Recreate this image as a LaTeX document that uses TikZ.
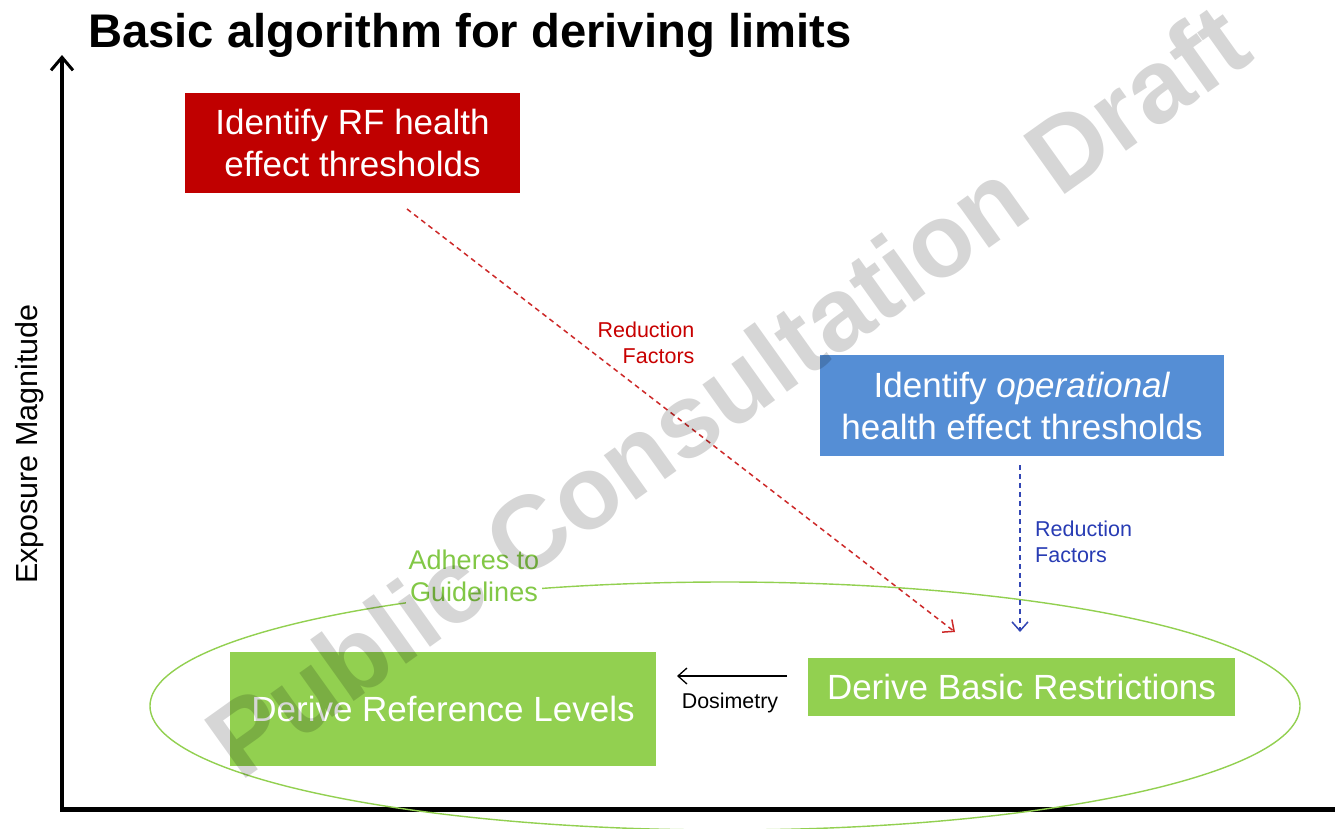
\documentclass[tikz,border=0pt]{standalone}
\usepackage{fontspec}
\setmainfont{Liberation Sans}
\usetikzlibrary{arrows.meta}
\definecolor{boxred}{RGB}{192,0,0}
\definecolor{boxblue}{RGB}{85,142,213}
\definecolor{boxgreen}{RGB}{146,208,80}
\definecolor{lblgreen}{RGB}{130,200,70}
\definecolor{arrred}{RGB}{205,40,40}
\definecolor{arrblue}{RGB}{50,70,180}
\definecolor{lblblue}{RGB}{40,60,180}
\definecolor{lblred}{RGB}{200,0,0}
\tikzset{
  box/.style={inner sep=0pt, text=white, align=center, font=\fontsize{35}{42}\selectfont},
  small/.style={inner sep=0pt, font=\fontsize{21.5}{26}\selectfont},
  dasharrow/.style={line width=1.5pt, dash pattern=on 5pt off 4pt, -{Straight Barb[length=9pt,width=16pt,line width=1.5pt]}},
}
\begin{document}
\begin{tikzpicture}[x=1pt,y=-1pt]
\useasboundingbox (0,0) rectangle (1335,828);
\fill[white] (0,0) rectangle (1335,828);
% axes
\coordinate (yb) at (62,809);
\coordinate (yt) at (62,55);
\coordinate (xr) at (1340,809);
\draw[line width=3.5pt, -{Straight Barb[length=13pt,width=22pt,line width=3pt]}] (yb) -- (yt);
\draw[line width=5pt] (60.25,809) -- (xr);
\node[small, rotate=90, font=\fontsize{30.5}{34}\selectfont] (ylab) at (30,444) {Exposure Magnitude};
% title
\node[anchor=base west, inner sep=0pt, font=\bfseries\fontsize{47.2}{52}\selectfont] (title) at (88,47) {Basic algorithm for deriving limits};
% ellipse
\draw[boxgreen, line width=1.4pt] (725,706) ellipse [x radius=575, y radius=124];
\node[small, fill=white, inner sep=3pt, align=center, text=lblgreen, font=\fontsize{27}{32}\selectfont] (adh) at (474,576) {Adheres to\\Guidelines};
% boxes
\node[box, fill=boxred, minimum width=335pt, minimum height=100pt] (rf) at (352.5,143) {Identify RF health\\effect thresholds};
\node[box, fill=boxblue, minimum width=404pt, minimum height=101pt] (op) at (1022,405.5) {Identify \textit{operational}\\health effect thresholds};
\node[box, fill=boxgreen, minimum width=427pt, minimum height=58pt] (br) at (1021.5,687) {Derive Basic Restrictions};
\node[box, fill=boxgreen, minimum width=426pt, minimum height=114pt] (rl) at (443,709) {Derive Reference Levels};
% connectors
\coordinate (rs) at (407,209);
\coordinate (re) at (955,632);
\draw[arrred, dasharrow] (rs) -- (re);
\node[small, text=lblred, align=right] (rlab) at (646,343) {Reduction\\Factors};
\coordinate (bs) at (1020,465);
\coordinate (be) at (1020,632);
\draw[arrblue, dasharrow] (bs) -- (be);
\node[small, text=lblblue, align=left, anchor=west] (blab) at (1035,542) {Reduction\\Factors};
\coordinate (ds) at (787,676);
\coordinate (de) at (677,676);
\draw[line width=1.3pt, -{Straight Barb[length=9pt,width=16pt,line width=1.3pt]}] (ds) -- (de);
\node[small, font=\fontsize{21.4}{24}\selectfont] (dos) at (730,703) {Dosimetry};
% watermark
\node[inner sep=0pt, rotate=35.5, text=black, opacity=0.16, font=\bfseries\fontsize{104}{110}\selectfont] (wm) at (727,390) {Public Consultation Draft};
\end{tikzpicture}
\end{document}
